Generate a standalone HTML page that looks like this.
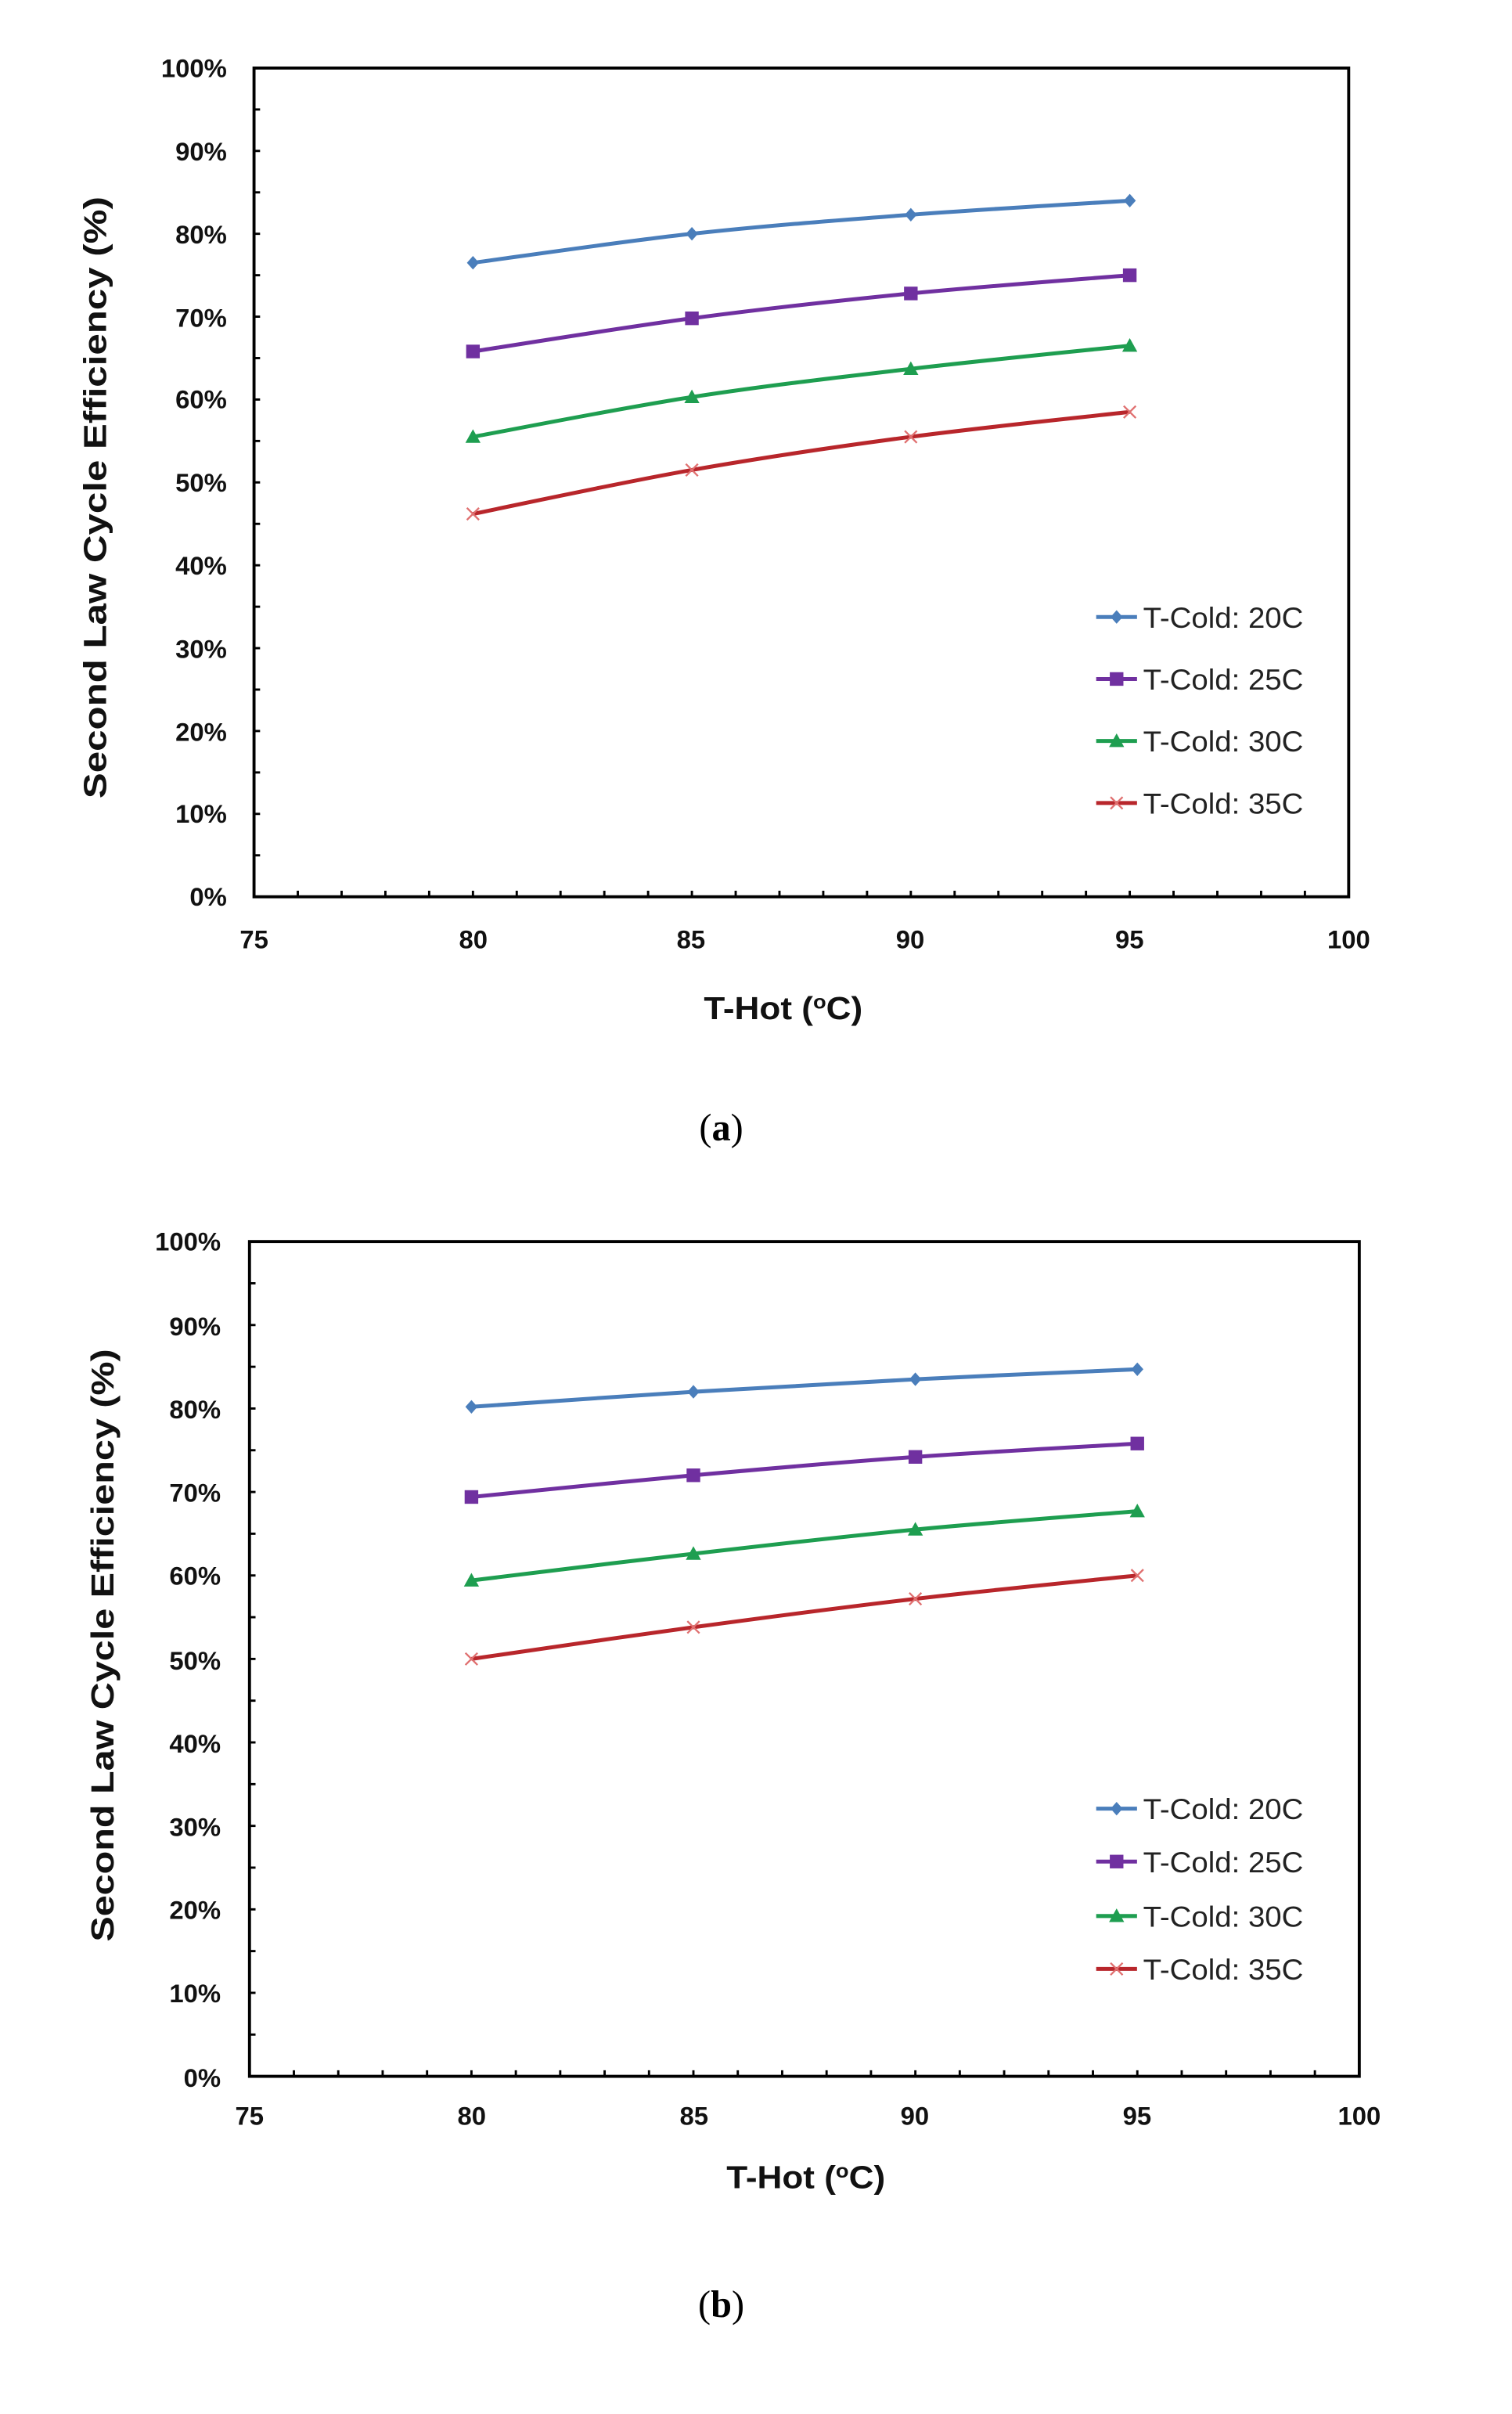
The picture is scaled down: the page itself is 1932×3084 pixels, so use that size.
<!DOCTYPE html>
<html><head><meta charset="utf-8"><style>
html,body{margin:0;padding:0;background:#fff;}
svg{display:block;}
.t{font-family:"Liberation Sans",sans-serif;font-weight:bold;font-size:17px;fill:#111;}
.ti{font-family:"Liberation Sans",sans-serif;font-weight:bold;font-size:21px;fill:#111;}
.lg{font-family:"Liberation Sans",sans-serif;font-size:19px;fill:#222;}
.cap{font-family:"Liberation Serif",serif;font-size:25px;fill:#000;}
</style></head><body>
<svg id="s" width="1932" height="3084" viewBox="0 0 1000 1596.3" xmlns="http://www.w3.org/2000/svg">
<rect width="1000" height="1596.3" fill="#fff"/>
<g id="ga"></g><g id="gb"></g>
<!-- chart a text -->
<g class="t" text-anchor="end">
<text x="150" y="51">100%</text><text x="150" y="106">90%</text><text x="150" y="161">80%</text><text x="150" y="216">70%</text><text x="150" y="270">60%</text><text x="150" y="325">50%</text><text x="150" y="380">40%</text><text x="150" y="435">30%</text><text x="150" y="490">20%</text><text x="150" y="544">10%</text><text x="150" y="599">0%</text>
</g>
<g class="t" text-anchor="middle">
<text x="168" y="627">75</text><text x="313" y="627">80</text><text x="457" y="627">85</text><text x="602" y="627">90</text><text x="747" y="627">95</text><text x="892" y="627">100</text>
</g>
<text class="ti" transform="translate(70,329) rotate(-90)" text-anchor="middle" textLength="398" lengthAdjust="spacingAndGlyphs">Second Law Cycle Efficiency (%)</text>
<text class="ti" x="518" y="674" text-anchor="middle" textLength="105" lengthAdjust="spacingAndGlyphs">T-Hot (<tspan font-size="13" dy="-7">o</tspan><tspan dy="7">C)</tspan></text>
<text class="cap" x="477" y="754" text-anchor="middle">(<tspan font-weight="bold">a</tspan>)</text>
<g class="lg">
<text x="756" y="415" textLength="106" lengthAdjust="spacingAndGlyphs">T-Cold: 20C</text><text x="756" y="456" textLength="106" lengthAdjust="spacingAndGlyphs">T-Cold: 25C</text><text x="756" y="497" textLength="106" lengthAdjust="spacingAndGlyphs">T-Cold: 30C</text><text x="756" y="538" textLength="106" lengthAdjust="spacingAndGlyphs">T-Cold: 35C</text>
</g>
<!-- chart b text -->
<g class="t" text-anchor="end">
<text x="146" y="827">100%</text><text x="146" y="883">90%</text><text x="146" y="938">80%</text><text x="146" y="993">70%</text><text x="146" y="1048">60%</text><text x="146" y="1104">50%</text><text x="146" y="1159">40%</text><text x="146" y="1214">30%</text><text x="146" y="1269">20%</text><text x="146" y="1324">10%</text><text x="146" y="1380">0%</text>
</g>
<g class="t" text-anchor="middle">
<text x="165" y="1405">75</text><text x="312" y="1405">80</text><text x="459" y="1405">85</text><text x="605" y="1405">90</text><text x="752" y="1405">95</text><text x="899" y="1405">100</text>
</g>
<text class="ti" transform="translate(75,1088) rotate(-90)" text-anchor="middle" textLength="392" lengthAdjust="spacingAndGlyphs">Second Law Cycle Efficiency (%)</text>
<text class="ti" x="533" y="1447" text-anchor="middle" textLength="105" lengthAdjust="spacingAndGlyphs">T-Hot (<tspan font-size="13" dy="-7">o</tspan><tspan dy="7">C)</tspan></text>
<text class="cap" x="477" y="1532" text-anchor="middle">(<tspan font-weight="bold">b</tspan>)</text>
<g class="lg">
<text x="756" y="1203" textLength="106" lengthAdjust="spacingAndGlyphs">T-Cold: 20C</text><text x="756" y="1238" textLength="106" lengthAdjust="spacingAndGlyphs">T-Cold: 25C</text><text x="756" y="1274" textLength="106" lengthAdjust="spacingAndGlyphs">T-Cold: 30C</text><text x="756" y="1309" textLength="106" lengthAdjust="spacingAndGlyphs">T-Cold: 35C</text>
</g>
</svg>
<script>
var NS="http://www.w3.org/2000/svg";
function el(p,n,a){var e=document.createElementNS(NS,n);for(var k in a)e.setAttribute(k,a[k]);p.appendChild(e);return e;}
var cols=["#4a7ebb","#7030a0","#1e9e50","#b8262b"];
function marker(g,k,x,y,c){
 if(k==0)el(g,"polygon",{points:(x)+","+(y-4.5)+" "+(x+4)+","+y+" "+x+","+(y+4.5)+" "+(x-4)+","+y,fill:c});
 else if(k==1)el(g,"rect",{x:x-4.5,y:y-4.5,width:9,height:9,fill:c});
 else if(k==2)el(g,"polygon",{points:x+","+(y-5)+" "+(x+5)+","+(y+4)+" "+(x-5)+","+(y+4),fill:c});
 else{el(g,"path",{d:"M"+(x-4)+" "+(y-4)+"L"+(x+4)+" "+(y+4)+"M"+(x+4)+" "+(y-4)+"L"+(x-4)+" "+(y+4),stroke:"#e07070","stroke-width":1.2});}
}
function chart(id,L,R,T,B,data,legY){
 var g=document.getElementById(id);
 var X=function(v){return L+(v-75)*(R-L)/25;},Y=function(p){return B-p*(B-T)/100;};
 el(g,"rect",{x:L,y:T,width:R-L,height:B-T,fill:"none",stroke:"#000","stroke-width":2});
 for(var v=76;v<100;v++)el(g,"line",{x1:X(v),y1:B,x2:X(v),y2:B-4,stroke:"#000","stroke-width":1.5});
 for(var p=5;p<100;p+=5)el(g,"line",{x1:L,y1:Y(p),x2:L+4,y2:Y(p),stroke:"#000","stroke-width":1.5});
 var xs=[80,85,90,95];
 data.forEach(function(d,k){
  var P=xs.map(function(v,i){return [X(v),Y(d[i])];});
  var dstr="M"+P[0][0]+" "+P[0][1];
  for(var i=0;i<3;i++){
   var p0=P[Math.max(i-1,0)],p1=P[i],p2=P[i+1],p3=P[Math.min(i+2,3)];
   var c1x=p1[0]+(p2[0]-p0[0])/6,c1y=p1[1]+(p2[1]-p0[1])/6,c2x=p2[0]-(p3[0]-p1[0])/6,c2y=p2[1]-(p3[1]-p1[1])/6;
   dstr+="C"+c1x+" "+c1y+" "+c2x+" "+c2y+" "+p2[0]+" "+p2[1];
  }
  el(g,"path",{d:dstr,fill:"none",stroke:cols[k],"stroke-width":2.6,"stroke-linejoin":"round"});
  P.forEach(function(p){marker(g,k,p[0],p[1],cols[k]);});
  el(g,"line",{x1:725,y1:legY[k],x2:752,y2:legY[k],stroke:cols[k],"stroke-width":2.6});
  marker(g,k,738.5,legY[k],cols[k]);
 });
}
chart("ga",168,892,45,593,[[76.5,80,82.3,84],[65.8,69.8,72.8,75],[55.5,60.3,63.7,66.5],[46.2,51.5,55.5,58.5]],[408,449,490,531]);
chart("gb",165,899,821,1373,[[80.2,82,83.5,84.7],[69.4,72,74.2,75.8],[59.4,62.6,65.5,67.7],[50,53.8,57.2,60]],[1196,1231,1267,1302]);
</script>
</body></html>
